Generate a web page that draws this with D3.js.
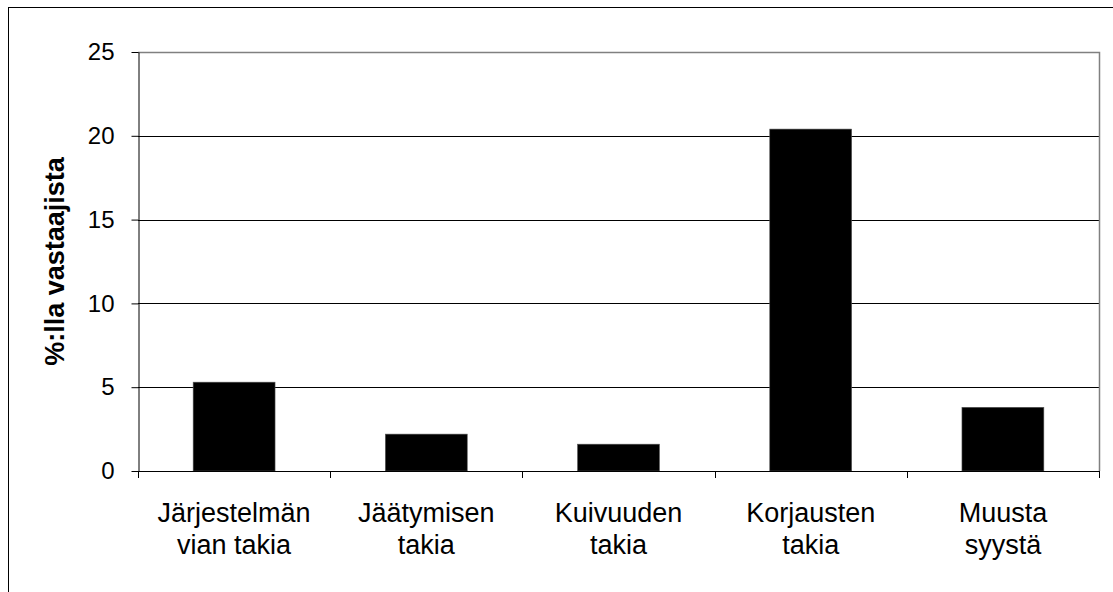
<!DOCTYPE html>
<html>
<head>
<meta charset="utf-8">
<script src="https://cdn.jsdelivr.net/npm/d3@7"></script>
<style>
	body { margin: 0; background: #fff; }
	svg { display: block; font-family: 'Liberation Sans', Arial, sans-serif; }
</style>
</head>
<body>
<svg id="chart" width="1113" height="592"></svg>
<script>
// values
const categories = [
	['Järjestelmän', 'vian takia'],
	['Jäätymisen', 'takia'],
	['Kuivuuden', 'takia'],
	['Korjausten', 'takia'],
	['Muusta', 'syystä']
];
const values = [5.3, 2.2, 1.6, 20.4, 3.8];
const yTicks = [0, 5, 10, 15, 20, 25];
const yTitle = '%:lla vastaajista';

const plot = { left: 138, top: 52, right: 1099, bottom: 471 };

const svg = d3.select('#chart');

// chart frame (only top and left edges fall inside the picture)
svg.append('rect')
	.attr('x', 8.5)
	.attr('y', 7.5)
	.attr('width', 1300)
	.attr('height', 800)
	.attr('fill', 'none')
	.attr('stroke', '#000');

const x = d3.scaleBand()
	.domain(d3.range(categories.length))
	.range([plot.left, plot.right])
	.paddingInner(0.574)
	.paddingOuter(0.287);

const y = d3.scaleLinear()
	.domain([0, 25])
	.range([plot.bottom, plot.top]);

// gridlines
svg.append('g')
	.selectAll('line')
	.data(yTicks.filter(d => d > 0 && d < 25))
	.join('line')
	.attr('x1', plot.left)
	.attr('x2', plot.right)
	.attr('y1', d => Math.round(y(d)) + 0.5)
	.attr('y2', d => Math.round(y(d)) + 0.5)
	.attr('stroke', '#000');

// plot area border (grey, top and right)
svg.append('path')
	.attr('d', `M${plot.left},${plot.top + 0.5}H${plot.right + 0.5}V${plot.bottom}`)
	.attr('fill', 'none')
	.attr('stroke', '#808080')
	.attr('stroke-width', 1.5);

// bars
svg.append('g')
	.selectAll('rect')
	.data(values)
	.join('rect')
	.attr('x', (d, i) => x(i))
	.attr('width', x.bandwidth())
	.attr('y', d => y(d))
	.attr('height', d => y(0) - y(d))
	.attr('fill', '#000')
	.attr('stroke', '#555')
	.attr('stroke-width', 0.6);

// y axis
const yAxis = svg.append('g')
	.attr('transform', `translate(${plot.left + 0.5},0)`)
	.call(d3.axisLeft(y).tickValues(yTicks).tickSize(7).tickPadding(17).tickSizeOuter(0));
yAxis.select('.domain').attr('stroke', '#000');
yAxis.selectAll('.tick text')
	.attr('font-size', 24)
	.attr('font-family', 'Liberation Sans, Arial, sans-serif')
	.attr('fill', '#000');

// x axis: ticks on category boundaries
const boundaries = d3.range(categories.length + 1).map(i => plot.left + i * x.step());
const xAxis = svg.append('g');
xAxis.append('line')
	.attr('x1', plot.left)
	.attr('x2', plot.right + 1)
	.attr('y1', plot.bottom + 0.5)
	.attr('y2', plot.bottom + 0.5)
	.attr('stroke', '#000');
xAxis.selectAll('.tick')
	.data(boundaries)
	.join('line')
	.attr('class', 'tick')
	.attr('x1', d => Math.round(d) + 0.5)
	.attr('x2', d => Math.round(d) + 0.5)
	.attr('y1', plot.bottom)
	.attr('y2', plot.bottom + 7)
	.attr('stroke', '#000');

const labels = svg.append('g')
	.selectAll('text')
	.data(categories)
	.join('text')
	.attr('text-anchor', 'middle')
	.attr('font-size', 27)
	.attr('fill', '#000')
	.attr('transform', (d, i) => `translate(${x(i) + x.bandwidth() / 2},522)`);
labels.selectAll('tspan')
	.data(d => d)
	.join('tspan')
	.attr('x', 0)
	.attr('dy', (d, i) => i === 0 ? 0 : 32)
	.text(d => d);

// y title
svg.append('text')
	.attr('transform', `translate(64,${(plot.top + plot.bottom) / 2}) rotate(-90)`)
	.attr('text-anchor', 'middle')
	.attr('font-size', 27)
	.attr('font-weight', 'bold')
	.attr('fill', '#000')
	.text(yTitle);
</script>
</body>
</html>
